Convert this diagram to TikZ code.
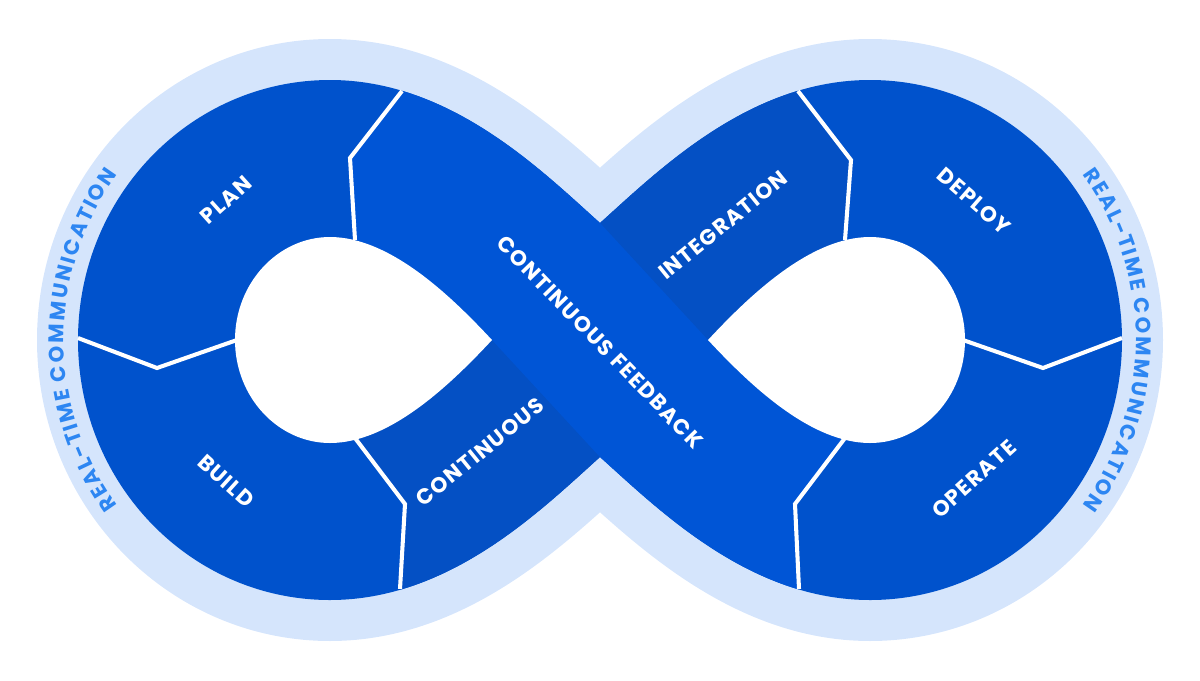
\documentclass[tikz,border=0pt]{standalone}
\usepackage{fontspec}
\setmainfont{Poppins}
\usetikzlibrary{decorations.text}

\definecolor{bandlight}{HTML}{D5E5FC}
\definecolor{segblue}{HTML}{0052CC}
\definecolor{crossblue}{HTML}{0450C4}
\definecolor{ribbonmid}{HTML}{0062EA}
\definecolor{ribbonend}{HTML}{0055D6}
\definecolor{rtcblue}{HTML}{2D86F2}

\begin{document}
\begin{tikzpicture}[x=0.02cm, y=-0.02cm,
  sep/.style={white, line width=2.3pt},
  lbl/.style={white, inner sep=0pt,
    font=\bfseries\fontsize{12.3}{14}\selectfont\addfontfeature{LetterSpace=6}},
  rtc/.style={decoration={text effects along path,
    text={REAL-TIME COMMUNICATION},
    text effects/.cd, fit text to path,
    characters={text along path, color=rtcblue,
      font=\bfseries\fontsize{12}{14}\selectfont}}, decorate}]
  \useasboundingbox (0,0) rectangle (1200,680);

  % outline of the loop
  \path[save path=\eightline] (600,223) .. controls (540.5,169.5) and (450,80) .. (330,80)
    .. controls (191,80) and (78,196) .. (78,340)
    .. controls (78,484) and (191,600) .. (330,600)
    .. controls (450,600) and (540.5,510.5) .. (600,457)
    .. controls (659.5,510.5) and (750,600) .. (870,600)
    .. controls (1009,600) and (1122,484) .. (1122,340)
    .. controls (1122,196) and (1009,80) .. (870,80)
    .. controls (750,80) and (659.5,169.5) .. (600,223) -- cycle;
  \draw[use path=\eightline, draw=bandlight, line width=1.64cm, line join=round];
  \fill[use path=\eightline, fill=segblue];

  \begin{scope}
    \clip[use path=\eightline];
    % band under the crossing
    \fill[crossblue] (400,589) -- (405,505) -- (355,440) -- (492,340) -- (600,223)
      -- (600,20) -- (798,20) -- (798,91) -- (851,160) -- (845,238) -- (708,340)
      -- (600,457) -- (600,660) -- (400,660) -- cycle;
    % ribbon on top
    \shade[left color=ribbonend, middle color=ribbonmid, right color=ribbonend]
      (402,91) -- (350,158) -- (355,238) -- (492,340) -- (600,457) -- (600,660)
      -- (799,660) -- (799,589) -- (795,505) -- (845,440) -- (708,340) -- (600,223)
      -- (600,20) -- (402,20) -- cycle;
  \end{scope}

  % separators
  \draw[sep] (402,91) -- (350,158) -- (355,240);
  \draw[sep] (78,338) -- (157,368) -- (237,340);
  \draw[sep] (355,438) -- (405,504) -- (400,589);
  \draw[sep] (798,91) -- (851,160) -- (845,240);
  \draw[sep] (963,340) -- (1043,368) -- (1122,338);
  \draw[sep] (845,438) -- (795,504) -- (799,589);

  % holes
  \fill[white] (330,237) .. controls (390,237) and (451,296) .. (492,340)
    .. controls (451,384) and (390,443) .. (330,443)
    .. controls (278,443) and (235,397) .. (235,340)
    .. controls (235,283) and (278,237) .. (330,237) -- cycle;
  \fill[white] (870,237) .. controls (810,237) and (749,296) .. (708,340)
    .. controls (749,384) and (810,443) .. (870,443)
    .. controls (922,443) and (965,397) .. (965,340)
    .. controls (965,283) and (922,237) .. (870,237) -- cycle;

  % labels
  \node[lbl, rotate=42] (plan) at (226,200) {PLAN};
  \node[lbl, rotate=-42] (build) at (226,481) {BUILD};
  \node[lbl, rotate=39] (cont) at (480,452) {CONTINUOUS};
  \node[lbl, rotate=39] (integ) at (723,225) {INTEGRATION};
  \node[lbl, rotate=-41] (deploy) at (974,201) {DEPLOY};
  \node[lbl, rotate=42] (operate) at (974,479) {OPERATE};
  \node[lbl, rotate=-46] (feedback) at (600,342) {CONTINUOUS\hskip0.3em FEEDBACK};

  % curved captions
  \path[rtc] (117.6,505.5) .. controls (46.2,407.6) and (46.2,272.4) .. (117.6,174.5);
  \path[rtc] (1082.4,174.5) .. controls (1153.8,272.4) and (1153.8,407.6) .. (1082.4,505.5);
\end{tikzpicture}
\end{document}
